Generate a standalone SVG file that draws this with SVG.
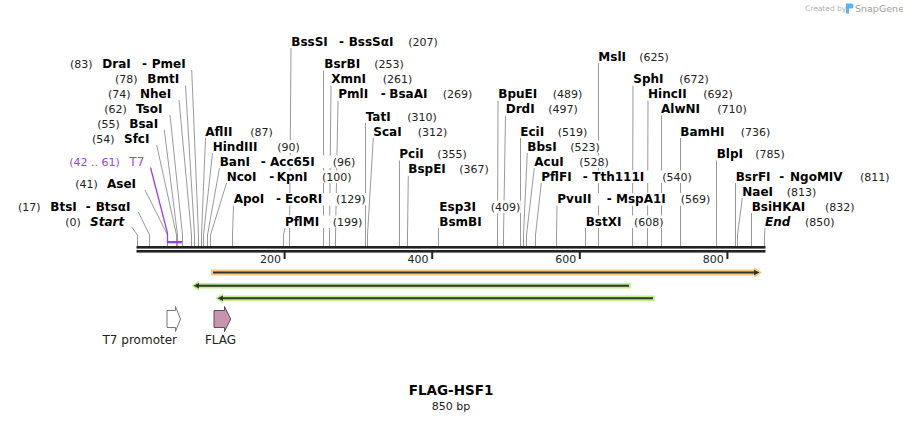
<svg xmlns="http://www.w3.org/2000/svg" width="903" height="422" viewBox="0 0 903 422">
<style>
.n{font-family:"DejaVu Sans",Verdana,sans-serif;font-weight:bold;font-size:12px;fill:#000}
.p{font-family:"DejaVu Sans",Verdana,sans-serif;font-size:11px;fill:#222}
.it{font-style:italic}
.m{fill:#fff}
.l{fill:none;stroke:#9a9a9a;stroke-width:1}
.pu{fill:#9b3ff0}
.r{font-family:"DejaVu Sans",Verdana,sans-serif;font-size:11px;fill:#222}
.f{font-family:"DejaVu Sans",Verdana,sans-serif;font-size:12px;fill:#222}
</style>
<rect width="903" height="422" fill="#fff"/>
<g id="logo">
<text x="805" y="11" font-family="DejaVu Sans, sans-serif" font-size="7.5" fill="#b4b4b4">Created by</text>
<path d="M846,3.5 h5 a2.5,2.5 0 0 1 0,5 h-2 v5 h-3 z" fill="#5ab4ea"/>
<text x="855" y="11.5" font-family="DejaVu Sans, sans-serif" font-size="9.5" fill="#a0a0a0">SnapGene</text>
</g>
<g id="connectors">
<polyline class="l" points="191.7,70 198.5,235 198.5,246"/>
<polyline class="l" points="185.5,85.5 194.5,235 194.5,246"/>
<polyline class="l" points="179,100 191.5,235 191.5,246"/>
<polyline class="l" points="170,115 182.5,235 182.5,246"/>
<polyline class="l" points="164.3,130 177.5,235 177.5,246"/>
<polyline class="l" points="156.7,145 176.5,235 176.5,246"/>
<polyline class="l" points="145,190 167.5,235 167.5,246"/>
<polyline class="l" points="138.3,212 149.5,235 149.5,246"/>
<polyline class="l" points="131.7,227 137.5,235 137.5,246"/>
<polyline class="l" points="205.5,138 201.5,235 201.5,246"/>
<polyline class="l" points="212.5,153 203.5,235 203.5,246"/>
<polyline class="l" points="219.5,168 207.5,235 207.5,246"/>
<polyline class="l" points="226.5,183 210.5,235 210.5,246"/>
<polyline class="l" points="233.5,205.5 232.5,235 232.5,246"/>
<polyline class="l" points="285,228 283.5,235 283.5,246"/>
<polyline class="l" points="291,48 289.5,235 289.5,246"/>
<polyline class="l" points="323.5,70.5 323.5,246"/>
<polyline class="l" points="331,85.5 329.5,235 329.5,246"/>
<polyline class="l" points="338,100.5 335.5,235 335.5,246"/>
<polyline class="l" points="365.5,123 365.5,246"/>
<polyline class="l" points="373.3,138 367.5,235 367.5,246"/>
<polyline class="l" points="399.5,160.5 399.5,246"/>
<polyline class="l" points="408.3,175.5 407.5,235 407.5,246"/>
<polyline class="l" points="438.5,228 438.5,246"/>
<polyline class="l" points="498,100.5 497.5,235 497.5,246"/>
<polyline class="l" points="505.5,115.5 503.5,235 503.5,246"/>
<polyline class="l" points="520.5,138 520.5,246"/>
<polyline class="l" points="527.3,153 523.5,235 523.5,246"/>
<polyline class="l" points="534.3,168 526.5,235 526.5,246"/>
<polyline class="l" points="541.3,183 535.5,235 535.5,246"/>
<polyline class="l" points="557,205.5 556.5,235 556.5,246"/>
<polyline class="l" points="585.5,228 585.5,246"/>
<polyline class="l" points="598.5,63 598.5,246"/>
<polyline class="l" points="633,85.5 632.5,235 632.5,246"/>
<polyline class="l" points="648,100.5 647.5,235 647.5,246"/>
<polyline class="l" points="661.5,115.5 661.5,246"/>
<polyline class="l" points="680.5,138 680.5,246"/>
<polyline class="l" points="716.5,160.5 716.5,246"/>
<polyline class="l" points="735.5,183 735.5,246"/>
<polyline class="l" points="742.3,198 737.5,235 737.5,246"/>
<polyline class="l" points="751.5,213 751.5,246"/>
<polyline class="l" points="765,228 764.5,235 764.5,246"/>
<polyline fill="none" stroke="#9b3ff0" stroke-width="1.3" points="150.5,167.5 167.5,233 167.5,242"/>
<rect class="pu" x="167" y="241" width="15" height="2.3"/>
</g>
<g id="ruler">
<rect x="136.5" y="246" width="629" height="2.6" fill="#222"/>
<rect x="136.5" y="250" width="629" height="2.6" fill="#222"/>
<rect x="283.6" y="252" width="2" height="7" fill="#222"/>
<rect x="431.2" y="252" width="2" height="7" fill="#222"/>
<rect x="578.8" y="252" width="2" height="7" fill="#222"/>
<rect x="726.4" y="252" width="2" height="7" fill="#222"/>
<text class="r" x="281" y="262.5" text-anchor="end">200</text>
<text class="r" x="428.6" y="262.5" text-anchor="end">400</text>
<text class="r" x="576.2" y="262.5" text-anchor="end">600</text>
<text class="r" x="723.8" y="262.5" text-anchor="end">800</text>
</g>
<g id="label-DraI"><rect class="m" x="69" y="58" width="119" height="12.5"/><text class="p" x="70" y="68">(83)</text><text class="n" x="102.3" y="68">DraI</text><text class="n" x="142" y="68">-</text><text class="n" x="151.7" y="68">PmeI</text></g>
<g id="label-BmtI"><rect class="m" x="114.5" y="73" width="67" height="12.5"/><text class="p" x="115" y="83">(78)</text><text class="n" x="147.3" y="83">BmtI</text></g>
<g id="label-NheI"><rect class="m" x="107.5" y="88" width="67" height="12.5"/><text class="p" x="108" y="98">(74)</text><text class="n" x="140" y="98">NheI</text></g>
<g id="label-TsoI"><rect class="m" x="103.8" y="103" width="63" height="12.5"/><text class="p" x="104.3" y="113">(62)</text><text class="n" x="136" y="113">TsoI</text></g>
<g id="label-BsaI"><rect class="m" x="96.8" y="118" width="64" height="12.5"/><text class="p" x="97.3" y="128">(55)</text><text class="n" x="129.3" y="128">BsaI</text></g>
<g id="label-SfcI"><rect class="m" x="91.5" y="133" width="61" height="12.5"/><text class="p" x="92" y="143">(54)</text><text class="n" x="124" y="143">SfcI</text></g>
<g id="label-T7"><rect class="m" x="68.8" y="155.5" width="76" height="12.5"/><text class="p" x="69.3" y="165.5" style="fill:#9b3ff0">(42 .. 61)</text><text class="p" x="129.3" y="165.5" style="fill:#9b3ff0;font-size:12px">T7</text></g>
<g id="label-AseI"><rect class="m" x="74.8" y="178" width="64" height="12.5"/><text class="p" x="75.3" y="188">(41)</text><text class="n" x="107" y="188">AseI</text></g>
<g id="label-BtsI"><rect class="m" x="17.5" y="200.5" width="115" height="12.5"/><text class="p" x="18" y="210.5">(17)</text><text class="n" x="50.3" y="210.5">BtsI</text><text class="n" x="85.7" y="210.5">-</text><text class="n" x="95.7" y="210.5">BtsαI</text></g>
<g id="label-Start"><rect class="m" x="64.8" y="215.5" width="59" height="12.5"/><text class="p" x="65.3" y="225.5">(0)</text><text class="n it" x="90" y="225.5">Start</text></g>
<g id="label-AflII"><rect class="m" x="204.8" y="125.5" width="69" height="12.5"/><text class="n" x="205.3" y="135.5">AflII</text><text class="p" x="250.3" y="135.5">(87)</text></g>
<g id="label-HindIII"><rect class="m" x="212.2" y="140.5" width="88" height="12.5"/><text class="n" x="212.7" y="150.5">HindIII</text><text class="p" x="277.3" y="150.5">(90)</text></g>
<g id="label-BanI"><rect class="m" x="219.2" y="155.5" width="136" height="12.5"/><text class="n" x="219.7" y="165.5">BanI</text><text class="n" x="260.7" y="165.5">-</text><text class="n" x="270" y="165.5">Acc65I</text><text class="p" x="332.7" y="165.5">(96)</text></g>
<g id="label-NcoI"><rect class="m" x="226.2" y="170.5" width="126" height="12.5"/><text class="n" x="226.7" y="180.5">NcoI</text><text class="n" x="269.3" y="180.5">-</text><text class="n" x="276.7" y="180.5">KpnI</text><text class="p" x="322" y="180.5">(100)</text></g>
<g id="label-ApoI"><rect class="m" x="233.2" y="193" width="133" height="12.5"/><text class="n" x="233.7" y="203">ApoI</text><text class="n" x="276" y="203">-</text><text class="n" x="285" y="203">EcoRI</text><text class="p" x="336" y="203">(129)</text></g>
<g id="label-PflMI"><rect class="m" x="284.5" y="215.5" width="78" height="12.5"/><text class="n" x="285" y="225.5">PflMI</text><text class="p" x="332.7" y="225.5">(199)</text></g>
<g id="label-BssSI"><rect class="m" x="290.8" y="35.5" width="148" height="12.5"/><text class="n" x="291.3" y="45.5">BssSI</text><text class="n" x="339" y="45.5">-</text><text class="n" x="348.7" y="45.5">BssSαI</text><text class="p" x="408.3" y="45.5">(207)</text></g>
<g id="label-BsrBI"><rect class="m" x="323.8" y="58" width="81" height="12.5"/><text class="n" x="324.3" y="68">BsrBI</text><text class="p" x="374.3" y="68">(253)</text></g>
<g id="label-XmnI"><rect class="m" x="330.8" y="73" width="82" height="12.5"/><text class="n" x="331.3" y="83">XmnI</text><text class="p" x="382.7" y="83">(261)</text></g>
<g id="label-PmlI"><rect class="m" x="337.8" y="88" width="135" height="12.5"/><text class="n" x="338.3" y="98">PmlI</text><text class="n" x="380.7" y="98">-</text><text class="n" x="389.3" y="98">BsaAI</text><text class="p" x="442.7" y="98">(269)</text></g>
<g id="label-TatI"><rect class="m" x="366.2" y="110.5" width="71" height="12.5"/><text class="n" x="365.7" y="120.5">TatI</text><text class="p" x="407.3" y="120.5">(310)</text></g>
<g id="label-ScaI"><rect class="m" x="372.8" y="125.5" width="75" height="12.5"/><text class="n" x="373.3" y="135.5">ScaI</text><text class="p" x="417.7" y="135.5">(312)</text></g>
<g id="label-PciI"><rect class="m" x="400" y="148" width="68" height="12.5"/><text class="n" x="399.3" y="158">PciI</text><text class="p" x="437.3" y="158">(355)</text></g>
<g id="label-BspEI"><rect class="m" x="407.8" y="163" width="82" height="12.5"/><text class="n" x="408.3" y="173">BspEI</text><text class="p" x="459.3" y="173">(367)</text></g>
<g id="label-Esp3I"><rect class="m" x="438.8" y="200.5" width="82" height="12.5"/><text class="n" x="439.3" y="210.5">Esp3I</text><text class="p" x="490.7" y="210.5">(409)</text></g>
<g id="label-BsmBI"><rect class="m" x="439" y="215.5" width="44" height="12.5"/><text class="n" x="439.3" y="225.5">BsmBI</text></g>
<g id="label-BpuEI"><rect class="m" x="498.6" y="88" width="84" height="12.5"/><text class="n" x="498.3" y="98">BpuEI</text><text class="p" x="552.7" y="98">(489)</text></g>
<g id="label-DrdI"><rect class="m" x="505.2" y="103" width="73" height="12.5"/><text class="n" x="505.7" y="113">DrdI</text><text class="p" x="548.3" y="113">(497)</text></g>
<g id="label-EciI"><rect class="m" x="521" y="125.5" width="67" height="12.5"/><text class="n" x="520.3" y="135.5">EciI</text><text class="p" x="557.7" y="135.5">(519)</text></g>
<g id="label-BbsI"><rect class="m" x="526.8" y="140.5" width="74" height="12.5"/><text class="n" x="527.3" y="150.5">BbsI</text><text class="p" x="570.3" y="150.5">(523)</text></g>
<g id="label-AcuI"><rect class="m" x="533.8" y="155.5" width="76" height="12.5"/><text class="n" x="534.3" y="165.5">AcuI</text><text class="p" x="579.3" y="165.5">(528)</text></g>
<g id="label-PflFI"><rect class="m" x="540.8" y="170.5" width="152" height="12.5"/><text class="n" x="541.3" y="180.5">PflFI</text><text class="n" x="582.7" y="180.5">-</text><text class="n" x="592.3" y="180.5">Tth111I</text><text class="p" x="662.3" y="180.5">(540)</text></g>
<g id="label-PvuII"><rect class="m" x="556.8" y="193" width="154" height="12.5"/><text class="n" x="557.3" y="203">PvuII</text><text class="n" x="606.7" y="203">-</text><text class="n" x="616" y="203">MspA1I</text><text class="p" x="680.7" y="203">(569)</text></g>
<g id="label-BstXI"><rect class="m" x="586" y="215.5" width="78" height="12.5"/><text class="n" x="585.7" y="225.5">BstXI</text><text class="p" x="634" y="225.5">(608)</text></g>
<g id="label-MslI"><rect class="m" x="599" y="50.5" width="71" height="12.5"/><text class="n" x="598.3" y="60.5">MslI</text><text class="p" x="639.3" y="60.5">(625)</text></g>
<g id="label-SphI"><rect class="m" x="632.8" y="73" width="77" height="12.5"/><text class="n" x="633.3" y="83">SphI</text><text class="p" x="679.3" y="83">(672)</text></g>
<g id="label-HincII"><rect class="m" x="647.7" y="88" width="86" height="12.5"/><text class="n" x="648" y="98">HincII</text><text class="p" x="703.3" y="98">(692)</text></g>
<g id="label-AlwNI"><rect class="m" x="662" y="103" width="86" height="12.5"/><text class="n" x="661" y="113">AlwNI</text><text class="p" x="717.3" y="113">(710)</text></g>
<g id="label-BamHI"><rect class="m" x="681" y="125.5" width="90" height="12.5"/><text class="n" x="680.3" y="135.5">BamHI</text><text class="p" x="740.7" y="135.5">(736)</text></g>
<g id="label-BlpI"><rect class="m" x="717" y="148" width="69" height="12.5"/><text class="n" x="716.7" y="158">BlpI</text><text class="p" x="755.3" y="158">(785)</text></g>
<g id="label-BsrFI"><rect class="m" x="736" y="170.5" width="154" height="12.5"/><text class="n" x="735.7" y="180.5">BsrFI</text><text class="n" x="779.3" y="180.5">-</text><text class="n" x="790" y="180.5">NgoMIV</text><text class="p" x="860" y="180.5">(811)</text></g>
<g id="label-NaeI"><rect class="m" x="741.8" y="185.5" width="75" height="12.5"/><text class="n" x="742.3" y="195.5">NaeI</text><text class="p" x="786.7" y="195.5">(813)</text></g>
<g id="label-BsiHKAI"><rect class="m" x="752" y="200.5" width="103" height="12.5"/><text class="n" x="751.7" y="210.5">BsiHKAI</text><text class="p" x="825" y="210.5">(832)</text></g>
<g id="label-End"><rect class="m" x="764.5" y="215.5" width="71" height="12.5"/><text class="n it" x="765" y="225.5">End</text><text class="p" x="805" y="225.5">(850)</text></g>
<g id="feature-HSF1">
<polygon points="211,269.5 754,269.5 754,267.3 762,272.5 754,277.7 754,275.5 211,275.5" fill="#f9c87c"/>
<line x1="213" y1="272.5" x2="756" y2="272.5" stroke="#333" stroke-width="2"/>
<polygon points="754,269.8 759.5,272.5 754,275.2" fill="#333"/>
</g>
<g id="primer-1">
<polygon points="630.7,283 199,283 199,280.5 191.5,285.7 199,291 199,288.5 630.7,288.5" fill="#bdf08c"/>
<line x1="196" y1="285.7" x2="629" y2="285.7" stroke="#333" stroke-width="2"/>
<polygon points="199,283 193.5,285.7 199,288.4" fill="#333"/>
</g>
<g id="primer-2">
<polygon points="654.7,295.5 223,295.5 223,293 215.3,298.3 223,303.6 223,301 654.7,301" fill="#bdf08c"/>
<line x1="220" y1="298.3" x2="653" y2="298.3" stroke="#333" stroke-width="2"/>
<polygon points="223,295.6 217.5,298.3 223,301" fill="#333"/>
</g>
<g id="feature-T7promoter">
<polygon points="167,310.5 175.5,310.5 175.5,306.5 180.5,319 175.5,331.5 175.5,327.5 167,327.5" fill="#fff" stroke="#777" stroke-width="1"/>
<text class="f" x="177" y="344" text-anchor="end">T7 promoter</text>
</g>
<g id="feature-FLAG">
<polygon points="214,310.5 224.5,310.5 224.5,306.5 230.7,319 224.5,331.5 224.5,327.5 214,327.5" fill="#c993ae" stroke="#555" stroke-width="1"/>
<text class="f" x="220.5" y="344" text-anchor="middle">FLAG</text>
</g>
<g id="title">
<text x="451" y="395" text-anchor="middle" font-family="DejaVu Sans, sans-serif" font-weight="bold" font-size="13.5" fill="#000">FLAG-HSF1</text>
<text x="451" y="410" text-anchor="middle" font-family="DejaVu Sans, sans-serif" font-size="11" fill="#222">850 bp</text>
</g>
</svg>
